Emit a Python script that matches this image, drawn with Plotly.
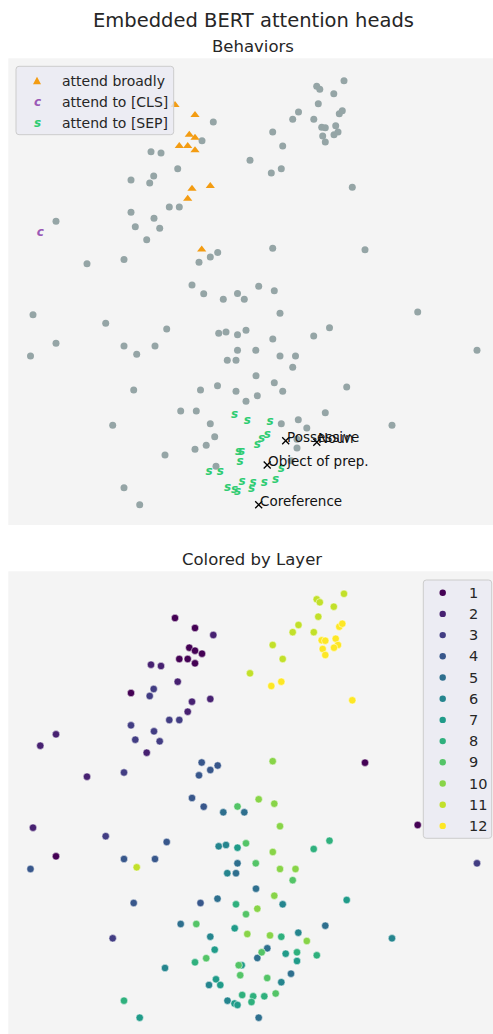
import plotly.graph_objects as go
from plotly.colors import sample_colorscale

# 2-D embedding of the 144 BERT attention heads (12 layers x 12 heads).
# head_kind: '.' plain head, 'b' attends broadly, 'c' attends to [CLS],
#            's' attends to [SEP], 'x' head singled out with a text note.
head_layer = ([1] * 12 + [2] * 12 + [3] * 12 + [4] * 12 + [5] * 12 + [6] * 11 +
              [7] * 12 + [8] * 12 + [9] * 12 + [10] * 12 + [11] * 12 + [12] * 12)

head_x = [
    -7.5, -5.5, -6.07, -5.5, -4.8, -7.07, -6.23, -5.5, -11.9, 11.5, 16.77, -19.4,
    -3.67, -9.9, -8.9, -7.23, -5.8, -3.97, -6.23, -19.4, -20.97, -10.33, -16.3, -21.7,
    -9.63, -10.03, -8.07, -7.07, -11.9, -9.6, -11.47, -9.03, -12.6, -14.43, 22.7, -13.73,
    -4.83, -3.23, -3.97, -5.1, -5.8, -4.63, -21.95, -12.6, -9.5, -8.33, -11.63, -4.95,
    -6.93, -2.67, -0.57, -1.25, -1.4, 0.6, -3.25, 7.53, 1.73, 0.73, 4.1, 0.87,
    -3.13, -2.4, -2.27, 3.27, 4.83, -3.97, 14.2, -8.5, 3.13, -4.1, -2.25,
    9.67, -1.53, -3.53, 3.57, 4.7, -3.4, -2.97, -11.03, -1.25, -0.83, -1.55, -1.25,
    6.37, 7.95, -1.4, 3.13, -5.5, 6.68, -0.78, 0.32, 0.15, 1.43, -12.6, 4.7,
    -1.25, 4.27, -0.4, 0.58, -0.4, -5.37, -4.38, 1.17, -1.13, -0.98, 1.72, 2.57,
    2.27, 0.87, 2.43, 3.0, 2.28, 3.0, 4.55, 2.43, 0.73, -0.27, 2.0, 5.68,
    9.4, 6.67, 6.98, 8.38, 6.83, 4.85, 4.27, 6.38, 2.27, 3.27, 0.0, -11.33,
    8.93, 9.23, 7.17, 7.53, 8.57, 8.8, 8.4, 7.27, 7.53, 2.13, 3.13, 10.23,
]

head_y = [
    18.2, 17.2, 15.23, 14.93, 14.63, 14.1, 14.1, 13.67, 10.7, 3.73, -2.5, -5.63,
    16.5, 13.53, 13.4, 11.83, 9.83, 10.1, 8.83, 6.57, 5.43, 4.73, 2.33, -2.77,
    11.1, 10.4, 8.0, 8.0, 7.47, 6.87, 6.03, 5.87, 2.75, -3.62, -6.33, -13.83,
    3.75, 3.45, 3.0, 2.47, 0.2, -0.67, -6.9, -5.9, -5.9, -4.2, -10.3, -10.3,
    -12.4, -1.23, -1.23, -6.33, -7.32, -8.87, -9.87, -12.57, -14.83, -15.8, -17.37, -21.77,
    -4.63, -4.5, -7.32, -10.43, -13.27, -13.67, -13.83, -16.8, -18.22, -18.5, -20.07,
    -10.0, -12.83, -14.97, -15.37, -16.1, -17.93, -18.5, -21.77, -4.77, -16.52, -20.35, -20.5,
    -4.9, -4.07, -10.43, -13.68, -16.23, -15.53, -19.5, -19.63, -20.2, -19.63, -20.07, -15.23,
    -0.65, -8.02, -4.33, -6.33, -11.42, -12.4, -15.82, -15.23, -16.52, -17.52, -17.8, -19.35,
    3.88, 0.07, -0.37, -2.62, -5.2, -6.9, -6.9, -9.57, -10.87, -13.4, -13.54, -14.1,
    20.62, 20.07, 19.77, 19.33, 18.33, 17.5, 16.78, 16.78, 15.5, 14.1, 12.67, -6.73,
    17.33, 17.63, 15.97, 15.93, 16.13, 15.5, 15.23, 15.1, 14.5, 11.4, 11.83, 9.97,
]

head_kind = list(
    "bbbb.bbb...."
    "....bbb.c..."
    "............"
    "b..........."
    "........ss.x"
    "........sss"
    ".s.x..s..sss"
    ".....xssss.."
    ".......sssxs"
    ".........ss."
    "............"
    "............"
)

# text notes for the 'x' heads, in the order they appear above
note_labels = ["Coreference", "Possessive", "Noun", "Object of prep."]

behavior_names = ["attend broadly", "attend to [CLS]", "attend to [SEP]"]
layer_names = [str(i) for i in range(1, 13)]

W, H = 493, 1034
FONT = "DejaVu Sans"
TXT = "#262626"
GRAY = "#95a5a6"
ORANGE = "#f39c12"
PURPLE = "#9b59b6"
GREEN = "#2ecc71"


def px(x):
    return x / W


def py(y):
    return 1 - y / H


def pick(kind):
    idx = [i for i, k in enumerate(head_kind) if k == kind]
    return [head_x[i] for i in idx], [head_y[i] for i in idx]


fig = go.Figure()

# ---- top panel: behaviours ----
gx, gy = pick(".")
fig.add_trace(go.Scatter(x=gx, y=gy, mode="markers", xaxis="x", yaxis="y",
                         marker=dict(size=7, color=GRAY, line=dict(width=0)),
                         showlegend=False, hoverinfo="skip"))
bx, by = pick("b")
fig.add_trace(go.Scatter(x=bx, y=by, mode="markers", xaxis="x", yaxis="y",
                         marker=dict(size=8, symbol="triangle-up", color=ORANGE, line=dict(width=0)),
                         showlegend=False, hoverinfo="skip"))
cx, cy = pick("c")
fig.add_trace(go.Scatter(x=cx, y=cy, mode="text", xaxis="x", yaxis="y",
                         text=["<b><i>c</i></b>"] * len(cx), textposition="middle center",
                         textfont=dict(family=FONT, size=12, color=PURPLE),
                         showlegend=False, hoverinfo="skip"))
sx, sy = pick("s")
fig.add_trace(go.Scatter(x=sx, y=sy, mode="text", xaxis="x", yaxis="y",
                         text=["<b><i>s</i></b>"] * len(sx), textposition="middle center",
                         textfont=dict(family=FONT, size=12, color=GREEN),
                         showlegend=False, hoverinfo="skip"))
nx, ny = pick("x")
fig.add_trace(go.Scatter(x=nx, y=ny, mode="markers", xaxis="x", yaxis="y",
                         marker=dict(size=7, symbol="x-thin", color="black",
                                     line=dict(width=1.3, color="black")),
                         showlegend=False, hoverinfo="skip"))

annotations = []
for lbl, x, y in zip(note_labels, nx, ny):
    annotations.append(dict(x=x, y=y, xref="x", yref="y", text=lbl, showarrow=False,
                            xanchor="left", yanchor="middle", xshift=-1, yshift=4,
                            font=dict(family=FONT, size=13.5, color="#111111")))

# ---- bottom panel: coloured by layer ----
layer_colors = sample_colorscale("Viridis", [i / 11 for i in range(12)])
for li, name in enumerate(layer_names):
    idx = [i for i, l in enumerate(head_layer) if l == li + 1]
    fig.add_trace(go.Scatter(x=[head_x[i] for i in idx], y=[head_y[i] for i in idx],
                             mode="markers", xaxis="x2", yaxis="y2",
                             marker=dict(size=7.4, color=layer_colors[li],
                                         line=dict(width=0.5, color="white")),
                             showlegend=False, hoverinfo="skip"))

# ---- titles ----
annotations.append(dict(x=px(253.3), y=py(20.5), xref="paper", yref="paper",
                        text="Embedded BERT attention heads", showarrow=False,
                        xanchor="center", yanchor="middle",
                        font=dict(family=FONT, size=19.5, color=TXT)))
annotations.append(dict(x=px(253), y=py(46.5), xref="paper", yref="paper",
                        text="Behaviors", showarrow=False, xanchor="center", yanchor="middle",
                        font=dict(family=FONT, size=16.5, color=TXT)))
annotations.append(dict(x=px(252.2), y=py(559.5), xref="paper", yref="paper",
                        text="Colored by Layer", showarrow=False, xanchor="center",
                        yanchor="middle", font=dict(family=FONT, size=16.5, color=TXT)))

shapes = []


def rounded_box(x0, y0, x1, y1, r=3):
    # path in paper coordinates for a legend frame given in pixels
    pts = (f"M {px(x0 + r)},{py(y0)} L {px(x1 - r)},{py(y0)} "
           f"Q {px(x1)},{py(y0)} {px(x1)},{py(y0 + r)} L {px(x1)},{py(y1 - r)} "
           f"Q {px(x1)},{py(y1)} {px(x1 - r)},{py(y1)} L {px(x0 + r)},{py(y1)} "
           f"Q {px(x0)},{py(y1)} {px(x0)},{py(y1 - r)} L {px(x0)},{py(y0 + r)} "
           f"Q {px(x0)},{py(y0)} {px(x0 + r)},{py(y0)} Z")
    return dict(type="path", xref="paper", yref="paper", path=pts,
                fillcolor="rgba(234,234,242,0.8)", line=dict(color="#cccccc", width=1))


# behaviours legend
shapes.append(rounded_box(16, 66.3, 173.7, 134.7))
row_y = [80.7, 101.7, 122.7]
tri = (f"M {px(33)},{py(row_y[0] + 3.5)} L {px(41)},{py(row_y[0] + 3.5)} "
       f"L {px(37)},{py(row_y[0] - 4)} Z")
shapes.append(dict(type="path", xref="paper", yref="paper", path=tri,
                   fillcolor=ORANGE, line=dict(width=0)))
for glyph, col, yy in [("c", PURPLE, row_y[1]), ("s", GREEN, row_y[2])]:
    annotations.append(dict(x=px(37), y=py(yy), xref="paper", yref="paper",
                            text=f"<b><i>{glyph}</i></b>", showarrow=False,
                            xanchor="center", yanchor="middle",
                            font=dict(family=FONT, size=12, color=col)))
for name, yy in zip(behavior_names, row_y):
    annotations.append(dict(x=px(60), y=py(yy), xref="paper", yref="paper", text=name,
                            showarrow=False, xanchor="left", yanchor="middle",
                            font=dict(family=FONT, size=14, color=TXT)))

# layer legend
shapes.append(rounded_box(423.3, 580, 491.7, 838.3))
for li, name in enumerate(layer_names):
    yy = 592.7 + 21.2 * li
    shapes.append(dict(type="circle", xref="paper", yref="paper",
                       xsizemode="pixel", ysizemode="pixel",
                       xanchor=px(442.7), yanchor=py(yy), x0=-3.2, x1=3.2, y0=-3.2, y1=3.2,
                       fillcolor=layer_colors[li], line=dict(width=0)))
    annotations.append(dict(x=px(467), y=py(yy), xref="paper", yref="paper", text=name,
                            showarrow=False, xanchor="left", yanchor="middle",
                            font=dict(family=FONT, size=14.5, color=TXT)))

axis_common = dict(visible=False, showgrid=False, zeroline=False, fixedrange=True)
fig.update_layout(
    width=W, height=H,
    margin=dict(l=0, r=0, t=0, b=0),
    paper_bgcolor="white",
    plot_bgcolor="#f4f4f4",
    showlegend=False,
    xaxis=dict(domain=[px(8.3), 1], range=[-24.17, 24.3], anchor="y", **axis_common),
    yaxis=dict(domain=[py(525), py(58.3)], range=[-23.8, 22.87], anchor="x", **axis_common),
    xaxis2=dict(domain=[px(8.3), 1], range=[-24.17, 24.3], anchor="y2", **axis_common),
    yaxis2=dict(domain=[0, py(571.3)], range=[-23.4, 22.87], anchor="x2", **axis_common),
    annotations=annotations,
    shapes=shapes,
)

fig.write_html("out.html")
